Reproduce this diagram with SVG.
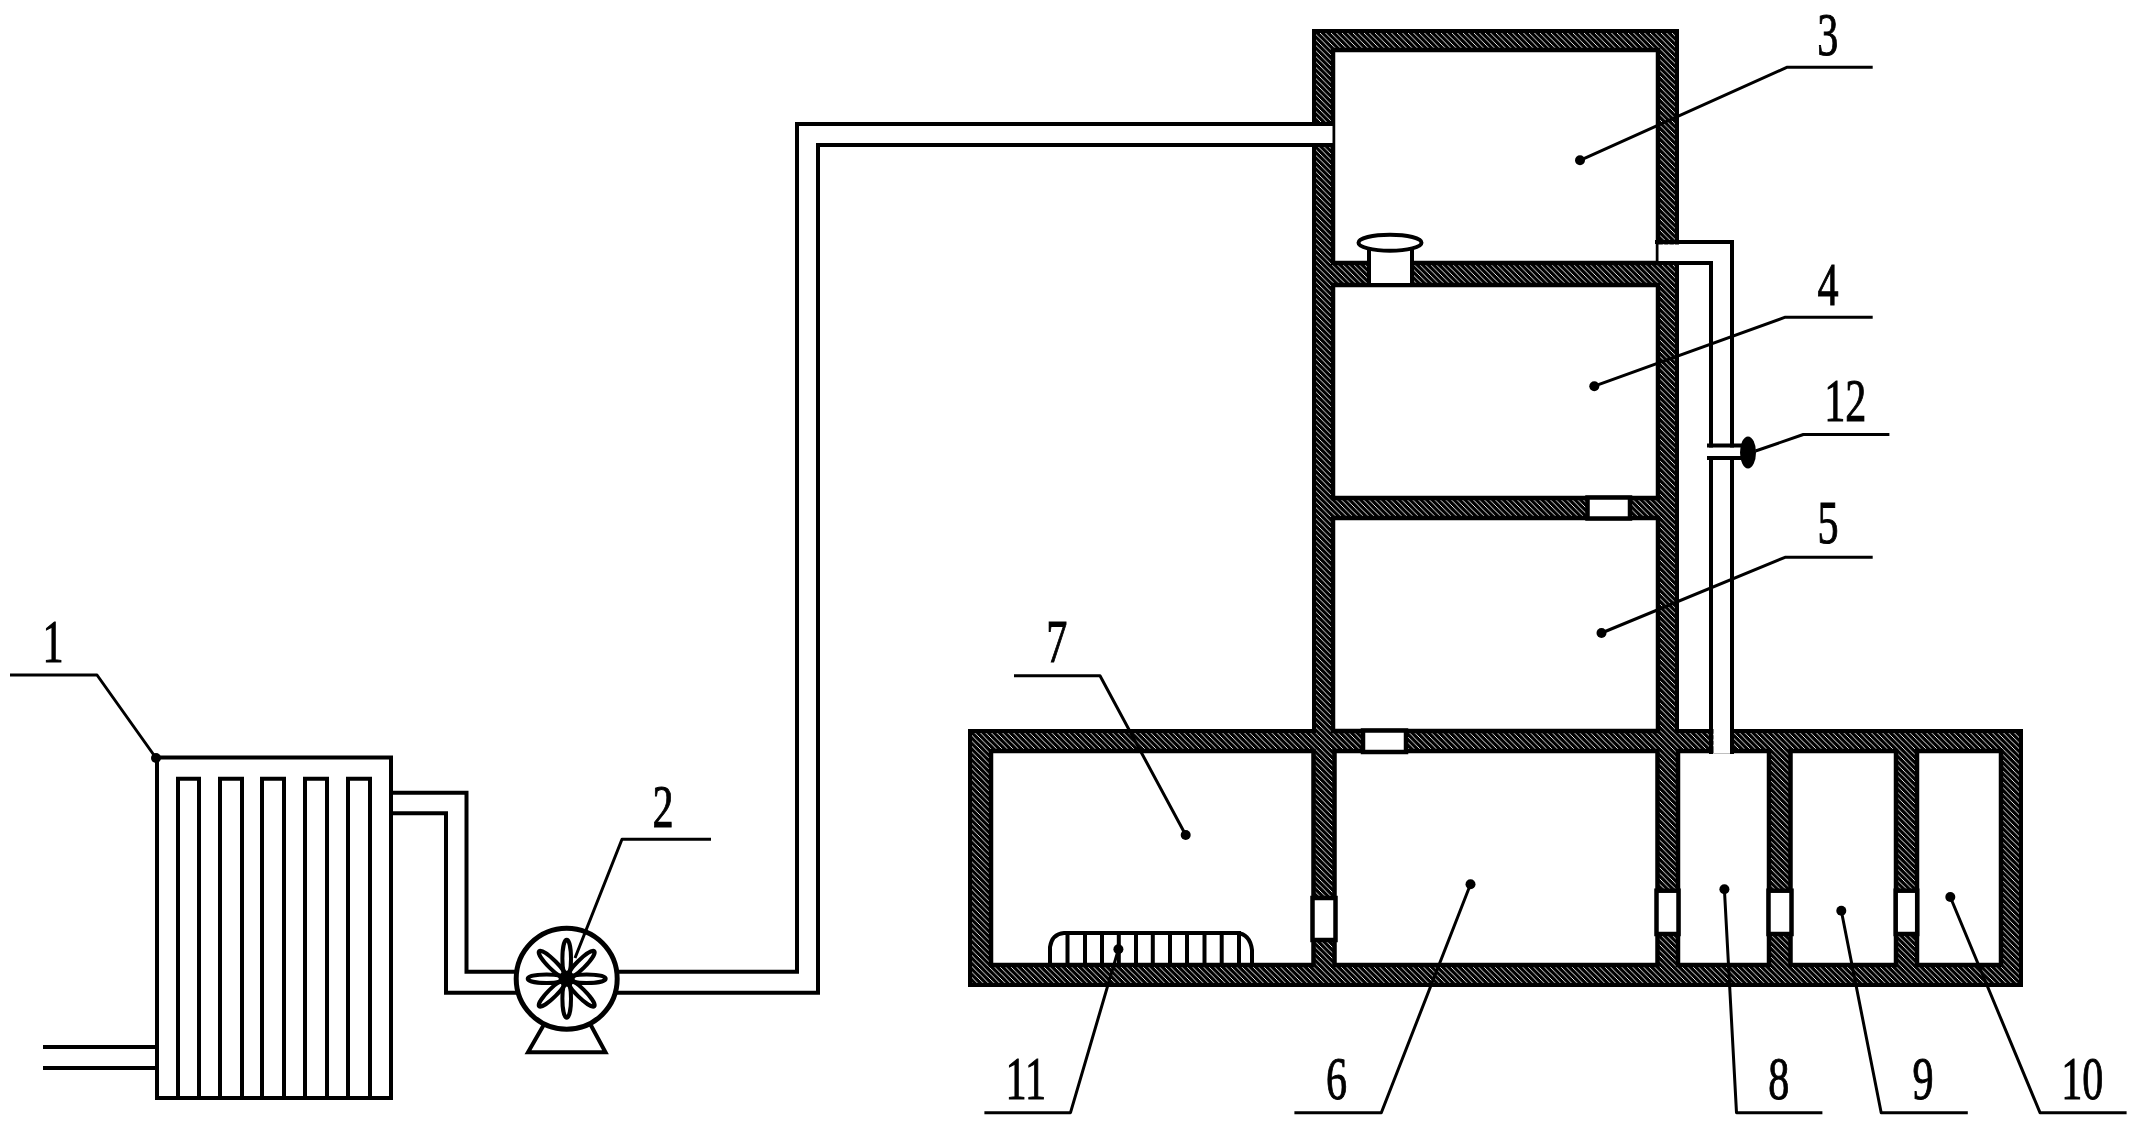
<svg xmlns="http://www.w3.org/2000/svg" width="2139" height="1131" viewBox="0 0 2139 1131">
<style>
.l{fill:none;stroke:#000;stroke-width:4;stroke-linecap:square}
.t{fill:none;stroke:#000;stroke-width:3;stroke-linejoin:round}
.r{fill:#fff;stroke:#000;stroke-width:4.500}
.w{fill:#fff;stroke:none}
.h{fill:url(#hatch);stroke:none}
.d{fill:#000}
.n{font-family:"Liberation Serif",serif;font-size:62px;fill:#000;stroke:#000;stroke-width:1;text-anchor:middle}
</style>
<defs>
<pattern id="hatch" width="5.500" height="5.500" patternUnits="userSpaceOnUse">
<rect width="5.500" height="5.500" fill="#000"/>
<path d="M-1,-1L6.500,6.500M-1,4.500L1,6.500M4.500,-1L6.500,1" stroke="#fff" stroke-width=".9"/>
</pattern>
</defs>
<rect width="2139" height="1131" fill="#fff"/>

<g id="tower-and-basin">
<rect class="h" x="1312" y="29" width="367" height="705"/>
<rect class="h" x="968" y="729" width="1055" height="258"/>
<path class="l" stroke-linejoin="miter" d="M1314,31V731M1314,31H1677V731H2021V985H970V731H1314"/>
</g>
<g id="node-3"><rect class="r" x="1333" y="50" width="325" height="213"/></g>
<g id="node-4"><rect class="r" x="1333" y="285" width="325" height="213"/></g>
<g id="node-5"><rect class="r" x="1333" y="518" width="325" height="213"/></g>
<g id="node-7"><rect class="r" x="991" y="751" width="322.500" height="214"/></g>
<g id="node-6"><rect class="r" x="1334.500" y="751" width="323" height="214"/></g>
<g id="node-8"><rect class="r" x="1678" y="751" width="91" height="214"/></g>
<g id="node-9"><rect class="r" x="1790.500" y="751" width="105.500" height="214"/></g>
<g id="node-10"><rect class="r" x="1917" y="751" width="84" height="214"/></g>

<g id="openings">
<rect class="r" x="1363" y="730.500" width="43" height="21.500"/>
<rect class="r" x="1587.500" y="497.500" width="42.500" height="21"/>
<rect class="r" x="1312.500" y="898" width="23" height="42"/>
<rect class="r" x="1656.500" y="890.700" width="22" height="43.300"/>
<rect class="r" x="1768.500" y="890.700" width="23" height="43.300"/>
<rect class="r" x="1895.700" y="890.700" width="21.500" height="43.300"/>
</g>

<g id="vent">
<rect class="w" x="1370" y="250" width="41" height="33"/>
<path class="l" d="M1369,250V284M1412,250V284"/>
<ellipse cx="1390" cy="242.700" rx="31.500" ry="8" fill="#fff" stroke="#000" stroke-width="4"/>
</g>

<g id="node-1">
<rect class="l" x="157" y="757.500" width="234" height="340.500"/>
<path class="l" stroke-linejoin="miter" d="M178,1098V778.700H199V1098M220,1098V778.700H242V1098M262,1098V778.700H284V1098M305,1098V778.700H327V1098M348,1098V778.700H370V1098"/>
</g>

<g id="node-11">
<path class="l" d="M1050,963V947Q1052,934 1064,933H1237Q1250,934 1252,950V963"/>
<path class="l" d="M1067.500,933V963M1085,933V963M1102,933V963M1118.800,933V963M1136,933V963M1152.800,933V963M1170,933V963M1187,933V963M1204.500,933V963M1221.700,933V963M1239,933V963"/>
</g>

<g id="connectors">
<path class="l" d="M45,1047H155M45,1068H155"/>
<path class="l" stroke-linejoin="miter" d="M393,792.700H466.500V971.700H516M393,813.300H446V992.700H516"/>
<rect class="w" x="1312" y="126" width="20.500" height="17"/>
<path class="l" stroke-linejoin="miter" d="M618,971.700H797V124H1332M618,992.700H818V145H1332"/>
<rect class="w" x="1658.500" y="244.500" width="71" height="16.500"/>
<rect class="w" x="1713.500" y="244" width="16.500" height="509"/>
<path class="l" stroke-linejoin="miter" d="M1657,242H1732V752M1657,263H1711V752"/>
</g>

<g id="node-12">
<rect class="w" x="1709" y="447.500" width="34" height="9"/>
<path class="l" d="M1709,445.500H1742M1709,458H1742"/>
<ellipse class="d" cx="1748" cy="452.400" rx="8" ry="16"/>
</g>

<g id="node-2">
<circle cx="566.700" cy="978.700" r="50.500" fill="#fff" stroke="#000" stroke-width="5"/>
<g fill="none" stroke="#000" stroke-width="4">
<ellipse cx="566.700" cy="958.700" rx="4.300" ry="19"/>
<ellipse cx="566.700" cy="958.700" rx="4.300" ry="19" transform="rotate(45 566.700 978.700)"/>
<ellipse cx="566.700" cy="958.700" rx="4.300" ry="19" transform="rotate(90 566.700 978.700)"/>
<ellipse cx="566.700" cy="958.700" rx="4.300" ry="19" transform="rotate(135 566.700 978.700)"/>
<ellipse cx="566.700" cy="958.700" rx="4.300" ry="19" transform="rotate(180 566.700 978.700)"/>
<ellipse cx="566.700" cy="958.700" rx="4.300" ry="19" transform="rotate(225 566.700 978.700)"/>
<ellipse cx="566.700" cy="958.700" rx="4.300" ry="19" transform="rotate(270 566.700 978.700)"/>
<ellipse cx="566.700" cy="958.700" rx="4.300" ry="19" transform="rotate(315 566.700 978.700)"/>
</g>
<circle class="d" cx="566.700" cy="978.700" r="8"/>
<path class="l" stroke-linejoin="miter" d="M542.700,1026.700L528,1052.300H605.500L591.700,1026.700"/>
</g>

<g id="leaders">
<path class="t" d="M10,675H97L156,758"/><circle class="d" cx="156" cy="758" r="5"/>
<path class="t" d="M711,839.300H622L575,958"/>
<path class="t" d="M1872.700,67.200H1787.300L1580,160.300"/><circle class="d" cx="1580" cy="160.300" r="5"/>
<path class="t" d="M1872.700,317.200H1785.300L1594.300,386.200"/><circle class="d" cx="1594.300" cy="386.200" r="5"/>
<path class="t" d="M1889.400,434.500H1803.300L1755.500,451"/>
<path class="t" d="M1872.700,557.300H1785L1601.500,633"/><circle class="d" cx="1601.500" cy="633" r="5"/>
<path class="t" d="M1014,675.700H1100L1185.700,835"/><circle class="d" cx="1185.700" cy="835" r="5"/>
<path class="t" d="M984.400,1112.700H1070.500L1118.400,949.300"/><circle class="d" cx="1118.400" cy="949.300" r="5"/>
<path class="t" d="M1294.400,1112.700H1381.300L1470.500,884.300"/><circle class="d" cx="1470.500" cy="884.300" r="5"/>
<path class="t" d="M1822.400,1112.700H1736.500L1724.400,889.300"/><circle class="d" cx="1724.400" cy="889.300" r="5"/>
<path class="t" d="M1967.800,1112.700H1881.200L1841.300,910.700"/><circle class="d" cx="1841.300" cy="910.700" r="5"/>
<path class="t" d="M2126.600,1112.700H2040L1950.300,897"/><circle class="d" cx="1950.300" cy="897" r="5"/>
</g>

<g id="labels">
<text class="n" transform="translate(53,662) scale(.68,1)">1</text>
<text class="n" transform="translate(663,826.700) scale(.68,1)">2</text>
<text class="n" transform="translate(1827.800,54.500) scale(.68,1)">3</text>
<text class="n" transform="translate(1828,304.500) scale(.68,1)">4</text>
<text class="n" transform="translate(1828,543.300) scale(.68,1)">5</text>
<text class="n" transform="translate(1336.500,1099.300) scale(.68,1)">6</text>
<text class="n" transform="translate(1056.700,661.700) scale(.68,1)">7</text>
<text class="n" transform="translate(1778.800,1099.300) scale(.68,1)">8</text>
<text class="n" transform="translate(1923,1099.300) scale(.68,1)">9</text>
<text class="n" transform="translate(2082.300,1099.300) scale(.68,1)">10</text>
<text class="n" transform="translate(1025.800,1099.300) scale(.68,1)">11</text>
<text class="n" transform="translate(1845.300,420.700) scale(.68,1)">12</text>
</g>
</svg>
